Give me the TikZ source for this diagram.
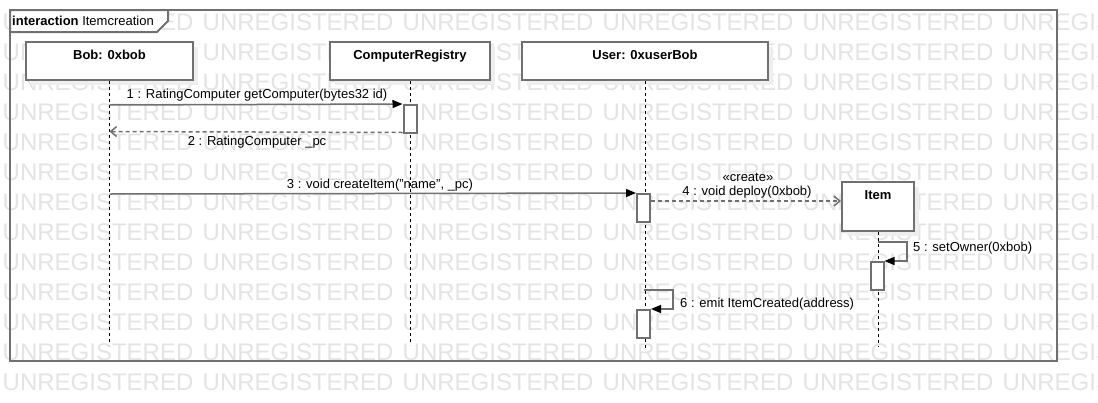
\documentclass[tikz,border=0pt]{standalone}
\usepackage{fontspec}
\setmainfont{Liberation Sans}
\usetikzlibrary{arrows.meta,shadows}
\definecolor{bord}{HTML}{707070}
\definecolor{wm}{HTML}{E4E4E4}
\definecolor{shad}{HTML}{EEEEEE}
\begin{document}
\begin{tikzpicture}[x=1pt,y=-1pt,
  font=\fontsize{13}{15}\selectfont,
  wmark/.style={anchor=west, inner sep=0pt, text=wm, font=\fontsize{24}{24}\selectfont},
  frameline/.style={draw=bord, line width=2pt},
  lifebox/.style={draw=bord, line width=2pt, fill=white, inner sep=0pt,
    font=\fontsize{13}{15}\selectfont\bfseries, text height=9.5pt,
    drop shadow={shadow xshift=5pt, shadow yshift=-5pt, fill=shad, opacity=1}},
  actbox/.style={draw=bord, line width=2pt, fill=white, inner sep=0pt, minimum width=13pt, minimum height=28pt},
  lifeline/.style={draw=black, line width=0.9pt, dash pattern=on 3pt off 3pt},
  msg/.style={draw=bord, line width=1.5pt, -{Triangle[length=10pt,width=8pt,color=black]}},
  ret/.style={draw=bord, line width=1.5pt, dash pattern=on 4pt off 3pt, -{Straight Barb[length=6pt,width=10pt]}},
  lbl/.style={inner sep=0pt, text=black}
]
\useasboundingbox (0,0) rectangle (1098,402);
\fill[white] (0,0) rectangle (1098,402);
% watermark
\begin{scope}
  \clip (0,0) rectangle (1098,402);
  \foreach \r in {0,...,12}{
    \foreach \c in {0,...,5}{
      \node[wmark] (w\r-\c) at (2.5+200*\c, 22+30*\r) {UNREGISTERED};
    }
  }
\end{scope}
% frame
\draw[frameline] (10,10) rectangle (1057,361);
\draw[frameline, fill=white] (10,10) -- (168,10) -- (168,21) -- (157,32) -- (10,32) -- cycle;
\node[lbl, anchor=west] (title) at (12,21) {\textbf{interaction} Itemcreation};
% lifeline heads
\node[lifebox, minimum width=167pt, minimum height=38pt, text depth=12pt] (bob) at (109.5,61) {Bob: 0xbob};
\node[lifebox, minimum width=160pt, minimum height=38pt, text depth=12pt] (reg) at (410,61) {ComputerRegistry};
\node[lifebox, minimum width=246pt, minimum height=38pt, text depth=12pt] (user) at (645,61) {User: 0xuserBob};
\node[lifebox, minimum width=72pt, minimum height=49pt, text depth=23pt] (item) at (878,206.5) {Item};
% lifelines
\coordinate (bobend) at (109.5,345);
\coordinate (regend) at (410,345);
\coordinate (userend) at (645,348);
\coordinate (itemend) at (878,347);
\draw[lifeline] (bob.south) -- (bobend);
\draw[lifeline] (reg.south) -- (regend);
\draw[lifeline] (user.south) -- (userend);
\draw[lifeline] (item.south) -- (itemend);
% activations
\node[actbox] (act1) at (410,119) {};
\node[actbox] (act3) at (643.5,208) {};
\node[actbox] (act5) at (877,276) {};
\node[actbox] (act6) at (643.5,324) {};
% message 1
\coordinate (m1s) at (109.5,105);
\draw[msg] (m1s) -- (act1.north west);
\node[lbl] (l1) at (257,95) {1 : RatingComputer getComputer(bytes32 id)};
% message 2
\coordinate (m2s) at ([yshift=1.5pt]act1.south west);
\coordinate (m2e) at (109.5,131.5);
\draw[ret] (m2s) -- (m2e);
\node[lbl] (l2) at (257,142) {2 : RatingComputer \_pc};
% message 3
\coordinate (m3s) at (109.5,194);
\draw[msg] (m3s) -- (act3.north west);
\node[lbl] (l3) at (380,185) {3 : void createItem("name", \_pc)};
% message 4
\coordinate (m4s) at ([yshift=-8pt]act3.north east);
\draw[ret] (m4s) -- (m4s -| item.west);
\node[lbl] (l4a) at (748,177) {«create»};
\node[lbl] (l4b) at (747,192) {4 : void deploy(0xbob)};
% message 5
\coordinate (m5s) at (878,242);
\draw[msg] (m5s) -- ++(29,0) |- (act5.north east);
\node[lbl, anchor=west] (l5) at (913,248) {5 : setOwner(0xbob)};
% message 6
\coordinate (m6s) at (644,290);
\draw[msg] (m6s) -- ++(29,0) |- (act6.north east);
\node[lbl, anchor=west] (l6) at (680,304) {6 : emit ItemCreated(address)};
\end{tikzpicture}
\end{document}
